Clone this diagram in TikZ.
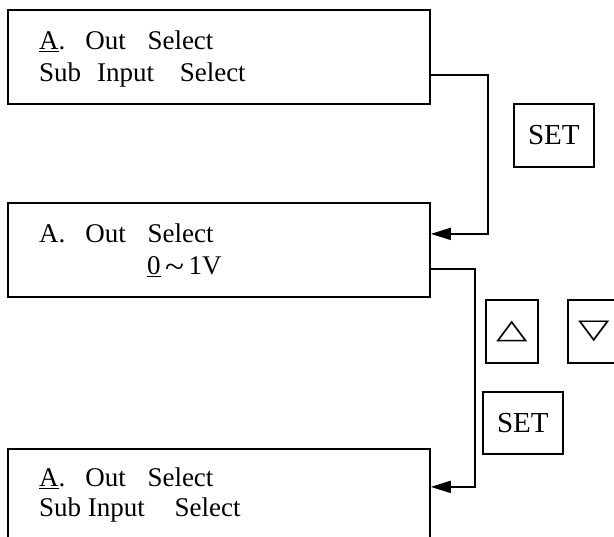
\documentclass[tikz,border=0pt]{standalone}
\usepackage{fontspec}
\setmainfont{Liberation Serif}
\newfontfamily\symfont{DejaVu Sans}
\usetikzlibrary{arrows.meta,positioning}
\tikzset{
    lcd/.style={draw, line width=1.8pt, minimum width=422pt, minimum height=94pt, anchor=north west, inner sep=0pt},
    lcdline/.style={anchor=base west, inner sep=0pt, font=\fontsize{27}{32}\selectfont},
    key/.style={draw, line width=1.8pt, inner sep=0pt, anchor=north west, font=\fontsize{29}{32}\selectfont},
    arrowkey/.style={key, minimum width=52pt, minimum height=63pt, font=\symfont\fontsize{34}{34}\selectfont},
    flow/.style={line width=1.8pt, -{Triangle[length=20pt,width=12pt]}}
}
\newcommand{\gap}[1]{\hspace{#1em}}
\newcommand{\squash}[1]{\scalebox{1.2}[0.8]{#1}}

\begin{document}
\begin{tikzpicture}[x=1pt, y=-1pt]
    \useasboundingbox (0,0) rectangle (614,537);
    \clip (0,0) rectangle (614,537);

    % display boxes
    \node[lcd] (lcd1) at (7,9.5) {};
    \node[lcd] (lcd2) at (7,202) {};
    \node[lcd] (lcd3) at (7,448) {};

    \node[lcdline] (l1a) at (39,50) {\underline{A}.\gap{0.74}Out\gap{0.8}Select};
    \node[lcdline] (l1b) at (39,82) {Sub\gap{0.59}Input\gap{0.95}Select};
    \node[lcdline] (l2a) at (39,243) {A.\gap{0.74}Out\gap{0.8}Select};
    \node[lcdline] (l2b) at (147,275) {\underline{0}\,\raisebox{-2.5pt}{\scalebox{1.3}[1.2]{\textasciitilde}}\,1V};
    \node[lcdline] (l3a) at (39,487) {\underline{A}.\gap{0.74}Out\gap{0.8}Select};
    \node[lcdline] (l3b) at (39,517) {Sub Input\gap{1.1}Select};

    % keys
    \node[key, minimum width=80pt, minimum height=63pt] (set1) at (513,103) {SET};
    \node[arrowkey] (up) at (485,299) {\squash{△}};
    \node[arrowkey] (down) at (567,299) {\squash{▽}};
    \node[key, minimum width=80pt, minimum height=62pt] (set2) at (482,391) {SET};

    \draw[flow] ([yshift=-17.5pt]lcd1.east) -- ++(57,0) |- ([yshift=16pt]lcd2.east);
    \draw[flow] ([yshift=-19pt]lcd2.east) -- ++(44,0) |- ([yshift=9pt]lcd3.east);
\end{tikzpicture}
\end{document}
